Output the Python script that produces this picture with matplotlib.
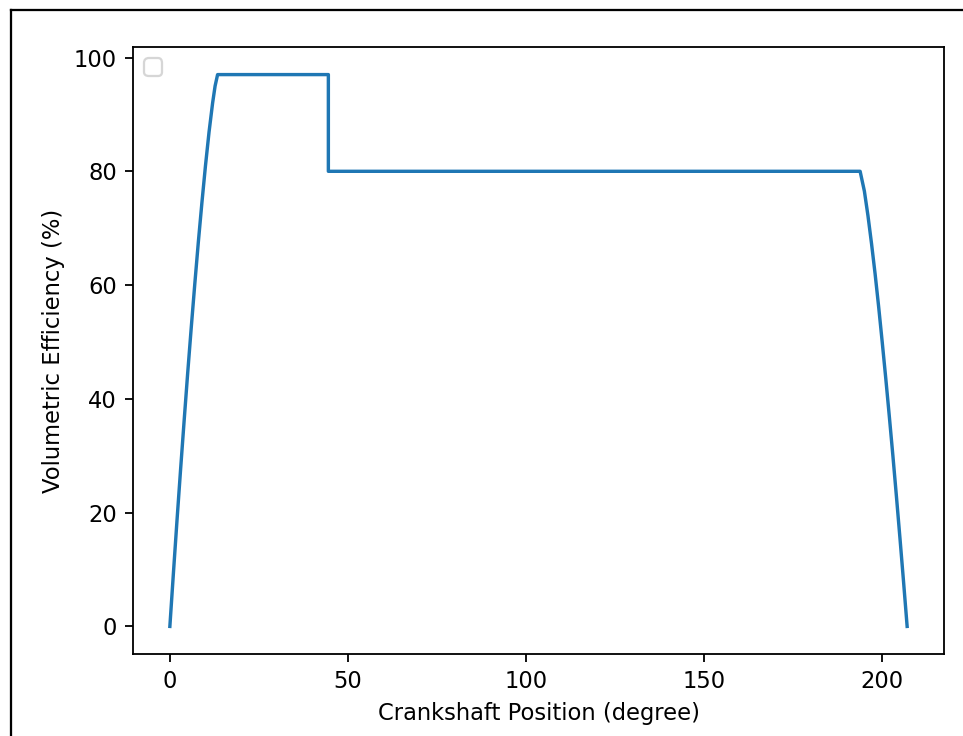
import matplotlib
matplotlib.use("Agg")
import matplotlib.pyplot as plt
from matplotlib.lines import Line2D

# Crank angle (degree) and volumetric efficiency (%) along the intake event
crank_deg = [0.0, 1.0, 2.0, 3.0, 4.0, 5.0, 6.0, 7.0, 8.0, 9.0, 10.0,
             11.0, 12.0, 12.7, 13.4,
             44.5, 44.5,
             193.8, 195.0, 196.0, 197.0, 198.0, 199.0, 200.0, 201.0,
             202.0, 203.0, 204.0, 205.0, 206.0, 207.0]
vol_eff = [0.0, 9.4, 18.6, 27.5, 36.1, 44.5, 52.5, 60.2, 67.6, 74.5, 81.0,
           86.9, 92.0, 95.0, 97.0,
           97.0, 80.0,
           80.0, 76.5, 72.2, 67.3, 62.0, 56.2, 50.0, 43.6,
           36.9, 30.0, 22.8, 15.4, 7.8, 0.0]

x_ticks = [0, 50, 100, 150, 200]
y_ticks = [0, 20, 40, 60, 80, 100]

DPI = 163
fig = plt.figure(figsize=(964 / DPI, 736 / DPI), dpi=DPI)
ax = fig.add_axes([133 / 964, 82 / 736, 811 / 964, 607 / 736])

ax.plot(crank_deg, vol_eff, color="#1f77b4", linewidth=1.5)
ax.set_xticks(x_ticks)
ax.set_yticks(y_ticks)
ax.set_xlabel("Crankshaft Position (degree)")
ax.set_ylabel("Volumetric Efficiency (%)")
ax.legend(handles=[], loc="upper left")

# Frame around the figure (top and left edges)
fig.add_artist(Line2D([11 / 964, 1.0], [1 - 10 / 736, 1 - 10 / 736],
                      transform=fig.transFigure, color="black", linewidth=1.0))
fig.add_artist(Line2D([11 / 964, 11 / 964], [0.0, 1 - 10 / 736],
                      transform=fig.transFigure, color="black", linewidth=1.0))

fig.savefig("out.png", dpi=DPI)
